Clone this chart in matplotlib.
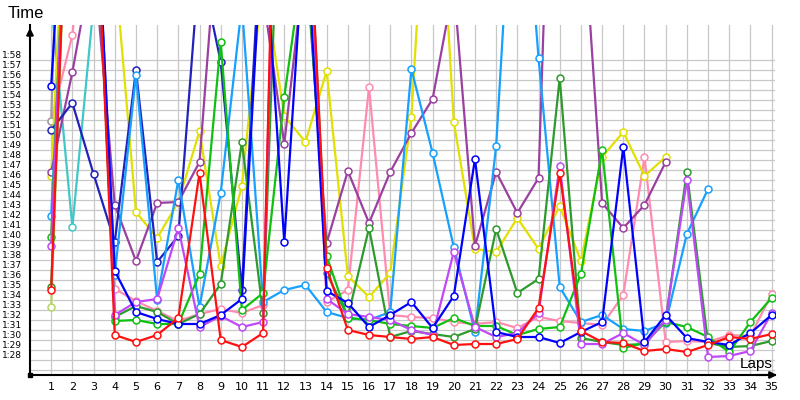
import numpy as np
import matplotlib.pyplot as plt

laps = list(range(1, 36))

# lap times in seconds; values above ~121 s run off the top of the chart
red = [94.5, 150, 140, 90.0, 89.3, 90.0, 91.7, 106.2, 89.5, 88.8,
       90.2, 180, 140, 96.7, 90.5, 90.0, 89.8, 89.6, 89.8, 89.0,
       89.1, 89.1, 89.6, 92.7, 106.2, 90.4, 89.3, 89.2, 88.4, 88.6,
       88.3, 89.0, 89.8, 89.6, 90.1]
blue = [114.9, 150, 140, 96.4, 92.3, 91.6, 91.1, 91.1, 92.0, 93.6,
        132, 99.3, 132, 94.4, 93.2, 90.8, 92.0, 93.3, 90.7, 93.9,
        107.6, 90.3, 89.8, 89.8, 89.2, 90.3, 91.3, 108.8, 89.3, 92.0,
        89.7, 89.3, 89.0, 90.2, 92.0]
navy = [110.5, 113.2, 106.1, 99.3, 116.5, 97.3, 99.9, 127.5, 117.3, 94.5,
        135] + [None] * 24
lightblue = [101.9, 145, 140, 96.0, 116.0, 93.5, 105.5, 92.8, 104.2, 123,
             93.3, 94.5, 95.0, 92.3, 91.7, 91.5, 92.3, 116.6, 108.2, 98.8,
             90.3, 108.9, 145, 117.7, 94.8, 91.3, 92.0, 90.6, 90.4, 91.2,
             100.1, 104.6, None, None, None]
cyan = [123.3, 100.8, 123] + [None] * 32
green = [99.8, 150, 140, 91.4, 91.5, 91.1, 91.1, 96.1, 119.3, 92.5,
         94.2, 113.8, 129, 97.9, 91.7, 91.5, 91.1, 90.9, 90.7, 91.7,
         90.9, 90.9, 90.0, 90.6, 90.8, 96.1, 108.5, 88.7, 89.2, 91.3,
         90.8, 89.8, 88.3, 91.3, 93.7]
darkgreen = [94.8, 150, 140, 91.8, 92.9, 92.3, 91.1, 92.1, 95.1, 109.3,
             92.2, 150, 140, 96.2, 91.8, 100.7, 89.8, 90.4, 90.1, 89.8,
             90.6, 100.6, 94.2, 95.6, 115.7, 89.7, 89.3, 89.0, 89.1, 91.5,
             106.3, 89.2, 88.8, 88.9, 89.4]
violet = [98.9, 150, 140, 92.0, 93.3, 93.6, 100.7, 90.8, 91.9, 90.8,
          91.3, 170, 140, 93.6, 92.1, 91.8, 91.5, 90.5, 90.0, 98.3,
          90.8, 89.8, 90.2, 92.2, 106.9, 89.1, 89.1, 90.2, 89.0, 91.5,
          105.5, 87.8, 87.9, 88.4, 92.2]
pink = [111.4, 120, 140, 94.6, 93.4, 92.4, 91.4, 92.1, 92.6, 92.2,
        93.0, 170, 140, 93.3, 94.5, 114.8, 92.0, 91.8, 91.7, 91.3,
        91.1, 91.3, 90.7, 91.8, 91.4, 91.2, 91.0, 94.0, 107.8, 89.3,
        89.4, 89.3, 90.0, 89.9, 94.1]
yellow = [105.9, 150, 150, 127, 102.3, 99.7, 103.3, 110.4, 96.9, 104.9,
          126, 111.9, 109.3, 116.4, 95.9, 93.8, 96.2, 111.8, 148, 111.3,
          98.6, 98.3, 101.7, 98.6, 102.9, 97.4, 107.8, 110.3, 105.9, 107.8,
          None, None, None, None, None]
purple = [106.3, 116.3, 128, 103.0, 97.4, 103.2, 103.3, 107.3, 135, 135,
          124, 109.1, 128, 99.2, 106.4, 101.2, 106.3, 110.2, 113.6, 125,
          98.9, 106.3, 102.2, 105.7, 170, 135, 103.2, 100.7, 103.0, 107.3,
          None, None, None, None, None]
yellowgreen = [92.8, 150] + [None] * 33
gray = [111.4, 180] + [None] * 33

series = [
    (yellowgreen, '#b4d468'),
    (cyan, '#40c8c8'),
    (pink, '#ff8cb0'),
    (gray, '#a0a0a0'),
    (yellow, '#e2e000'),
    (purple, '#9a40a0'),
    (navy, '#2222bb'),
    (lightblue, '#18a0ff'),
    (darkgreen, '#2e9a2e'),
    (green, '#10c010'),
    (violet, '#c048f8'),
    (blue, '#0000ff'),
    (red, '#ff1010'),
]

time_ticks = list(range(88, 119))
time_labels = ['%d:%02d' % (t // 60, t % 60) for t in time_ticks]

fig = plt.figure(figsize=(8, 4), dpi=100)
ax = fig.add_axes([0.0375, 0.0625, 0.93125, 0.875])

for vals, col in series:
    y = np.array([np.nan if v is None else v for v in vals], dtype=float)
    ax.plot(laps, y, color=col, lw=1.6, marker='o', ms=5,
            mfc='white', mec=col, mew=1.1, zorder=3)

ax.set_xlim(0, 35.16)
ax.set_ylim(86, 121)

ax.set_xticks(laps)
ax.set_xticklabels([str(l) for l in laps], fontsize=8)
ax.set_yticks(time_ticks)
ax.set_yticklabels(time_labels, fontsize=6.5)
ax.set_yticks(np.arange(86.5, 118, 1), minor=True)
ax.tick_params(axis='both', which='both', length=0)
ax.tick_params(axis='x', pad=5)
ax.tick_params(axis='y', pad=6)

ax.grid(which='major', axis='x', color='#c8c8c8', lw=0.9)
ax.grid(which='minor', axis='y', color='#c8c8c8', lw=0.9)
ax.set_axisbelow(True)

for s in ['top', 'right']:
    ax.spines[s].set_visible(False)
for s in ['left', 'bottom']:
    ax.spines[s].set_color('black')
    ax.spines[s].set_linewidth(1.5)

# axis arrows
ax.annotate('', xy=(0, 1.0), xytext=(0, 0.95), xycoords='axes fraction',
            arrowprops=dict(arrowstyle='-|>', color='black', lw=1.5,
                            mutation_scale=10))
ax.annotate('', xy=(1.0065, 0), xytext=(0.97, 0), xycoords='axes fraction',
            arrowprops=dict(arrowstyle='-|>', color='black', lw=1.5,
                            mutation_scale=10))
ax.plot(0, 0, 's', color='black', ms=3, transform=ax.transAxes, clip_on=False)

fig.text(8 / 800, 1 - 14 / 400, 'Time', fontsize=12, family='Liberation Sans',
         ha='left', va='center')
fig.text(773 / 800, 1 - 364 / 400, 'Laps', fontsize=11, family='Liberation Sans',
         ha='right', va='center')

fig.savefig('out.png', dpi=100)
